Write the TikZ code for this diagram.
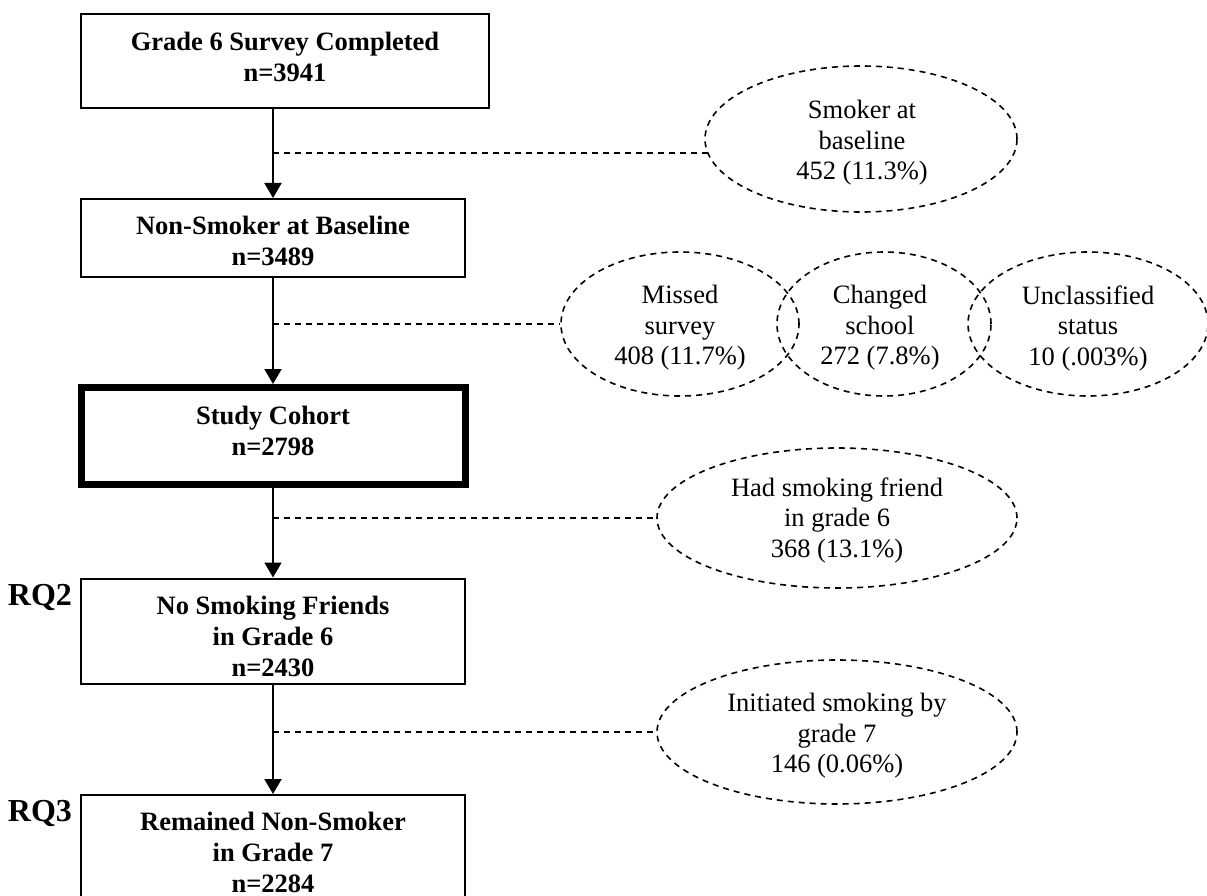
\documentclass[tikz,border=0pt]{standalone}
\usepackage{fontspec}
\setmainfont{Liberation Serif}
\usetikzlibrary{shapes.geometric,arrows.meta}
\tikzset{
  boxnode/.style={draw=black, line width=2pt, rectangle, inner sep=0pt},
  boxtext/.style={inner sep=0pt, align=center, font=\fontsize{26.5}{31}\selectfont\bfseries},
  ovalnode/.style={draw=black, line width=1.6pt, dash pattern=on 6pt off 5pt, ellipse, inner sep=0pt},
  ovaltext/.style={inner sep=0pt, align=center, font=\fontsize{26.5}{30.5}\selectfont},
  flowarrow/.style={draw=black, line width=2pt, -{Triangle[width=17pt,length=15pt]}},
  exitline/.style={draw=black, line width=1.6pt, dash pattern=on 6pt off 5pt},
  rqlabel/.style={font=\fontsize{32}{36}\selectfont\bfseries, inner sep=0pt}
}
\begin{document}
\begin{tikzpicture}[x=1pt,y=-1pt]
\useasboundingbox (0,0) rectangle (1207,896);
\clip (0,0) rectangle (1207,896);

% main boxes
\node[boxnode, minimum width=408pt, minimum height=94pt] (b1) at (285,61) {};
\node[boxnode, minimum width=384pt, minimum height=78pt] (b2) at (273,238) {};
\node[boxnode, line width=7pt, minimum width=384pt, minimum height=97pt] (b3) at (273,436) {};
\node[boxnode, minimum width=384pt, minimum height=105pt] (b4) at (273,631) {};
\node[boxnode, minimum width=384pt, minimum height=114pt] (b5) at (273,852) {};

\node[boxtext] (t1) at (285,57) {Grade 6 Survey Completed\\n=3941};
\node[boxtext] (t2) at (273,241) {Non-Smoker at Baseline\\n=3489};
\node[boxtext] (t3) at (273,431) {Study Cohort\\n=2798};
\node[boxtext] (t4) at (273,636) {No Smoking Friends\\in Grade 6\\n=2430};
\node[boxtext] (t5) at (273,852) {Remained Non-Smoker\\in Grade 7\\n=2284};

% RQ labels
\node[rqlabel] (rq2) at (40,597) {RQ2};
\node[rqlabel] (rq3) at (40,813) {RQ3};

% exclusion ellipses
\node[ovalnode, minimum width=312pt, minimum height=146pt] (e1) at (861,139) {};
\node[ovalnode, minimum width=238pt, minimum height=144pt] (e2) at (680,324) {};
\node[ovalnode, minimum width=214pt, minimum height=144pt] (e3) at (884,324) {};
\node[ovalnode, minimum width=240pt, minimum height=144pt] (e4) at (1088,324) {};
\node[ovalnode, minimum width=360pt, minimum height=140pt] (e5) at (837,518) {};
\node[ovalnode, minimum width=360pt, minimum height=144pt] (e6) at (837,732) {};

\node[ovaltext] (s1) at (862,143) {Smoker at\\baseline\\452 (11.3\%)};
\node[ovaltext] (s2) at (680,328) {Missed\\survey\\408 (11.7\%)};
\node[ovaltext] (s3) at (880,328) {Changed\\school\\272 (7.8\%)};
\node[ovaltext] (s4) at (1088,328) {Unclassified\\status\\10 (.003\%)};
\node[ovaltext] (s5) at (837,520) {Had smoking friend\\in grade 6\\368 (13.1\%)};
\node[ovaltext] (s6) at (837,736) {Initiated smoking by\\grade 7\\146 (0.06\%)};

% junctions on the flow line
\coordinate (j1) at (273,153);
\coordinate (j2) at (273,324);
\coordinate (j3) at (273,518);
\coordinate (j4) at (273,732);

% flow arrows
\draw[flowarrow] (b1.south -| b2.north) -- (b2.north);
\draw[flowarrow] (b2.south) -- (b3.north);
\draw[flowarrow] (b3.south) -- (b4.north);
\draw[flowarrow] (b4.south) -- (b5.north);

% dashed exits
\draw[exitline] (j1) -- (j1 -| e1.185);
\draw[exitline] (j2) -- (e2.west);
\draw[exitline] (j3) -- (e5.west);
\draw[exitline] (j4) -- (e6.west);
\end{tikzpicture}
\end{document}
